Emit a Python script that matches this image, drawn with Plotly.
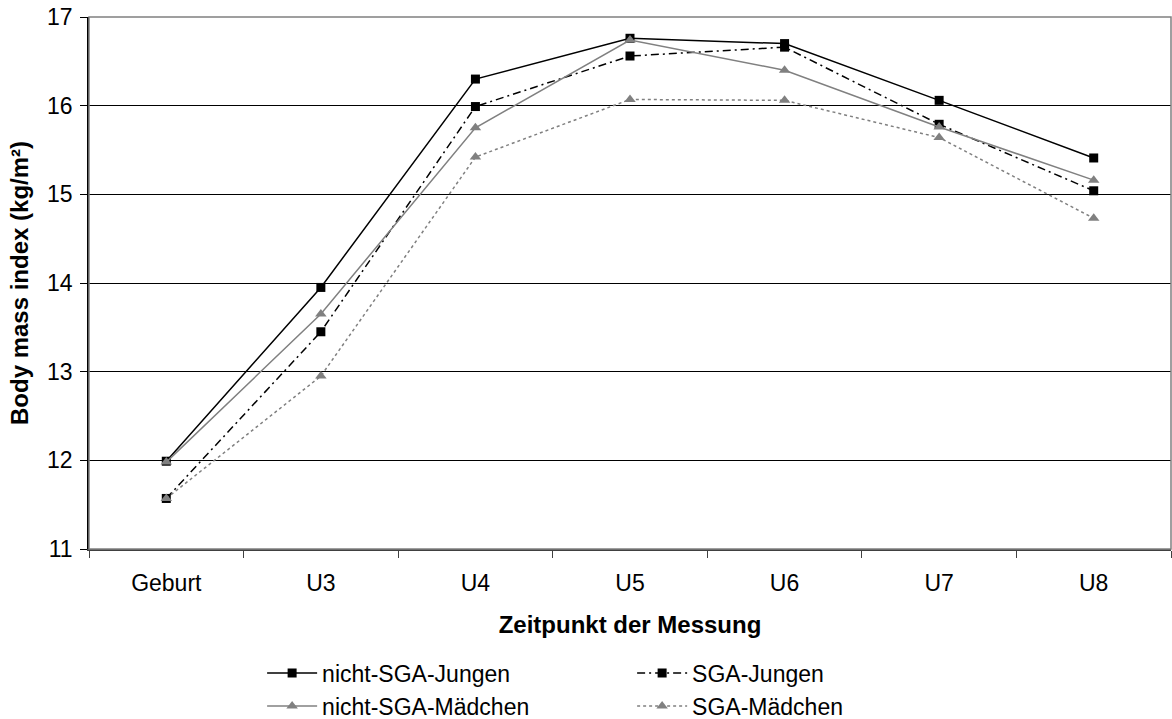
import plotly.graph_objects as go

categories = ["Geburt", "U3", "U4", "U5", "U6", "U7", "U8"]
nicht_sga_jungen = [11.99, 13.95, 16.30, 16.76, 16.70, 16.06, 15.41]
sga_jungen = [11.57, 13.45, 15.99, 16.56, 16.66, 15.79, 15.04]
nicht_sga_maedchen = [11.98, 13.65, 15.75, 16.74, 16.40, 15.76, 15.16]
sga_maedchen = [11.57, 12.95, 15.42, 16.07, 16.06, 15.64, 14.73]
y_ticks = [11, 12, 13, 14, 15, 16, 17]

FONT = "Liberation Sans, Arial, sans-serif"
FS = 23
FT = 24

fig = go.Figure()
fig.add_trace(go.Scatter(x=categories, y=nicht_sga_jungen, name="nicht-SGA-Jungen",
                         mode="lines+markers", legend="legend",
                         line=dict(color="black", width=1.5),
                         marker=dict(symbol="square", size=9, color="black")))
fig.add_trace(go.Scatter(x=categories, y=sga_jungen, name="SGA-Jungen",
                         mode="lines+markers", legend="legend",
                         line=dict(color="black", width=1.5, dash="8px,4px,2px,4px"),
                         marker=dict(symbol="square", size=9, color="black")))
fig.add_trace(go.Scatter(x=categories, y=nicht_sga_maedchen, name="nicht-SGA-Mädchen",
                         mode="lines+markers", legend="legend2",
                         line=dict(color="#808080", width=1.5),
                         marker=dict(symbol="triangle-up", size=10, color="#808080")))
fig.add_trace(go.Scatter(x=categories, y=sga_maedchen, name="SGA-Mädchen",
                         mode="lines+markers", legend="legend2",
                         line=dict(color="#808080", width=1.5, dash="3px,3px"),
                         marker=dict(symbol="triangle-up", size=10, color="#808080")))

leg_common = dict(orientation="h", x=0.160, xanchor="left", yanchor="middle",
                  entrywidth=305, entrywidthmode="pixels",
                  font=dict(family=FONT, size=FS, color="black"),
                  itemwidth=50, bgcolor="rgba(0,0,0,0)")

fig.update_layout(
    width=1172, height=719,
    margin=dict(l=89, r=1, t=17, b=170, autoexpand=False),
    paper_bgcolor="white", plot_bgcolor="white",
    font=dict(family=FONT, size=FS, color="black"),
    legend=dict(leg_common, y=-0.233),
    legend2=dict(leg_common, y=-0.295),
    xaxis=dict(type="category", range=[-0.5, 6.5], tickson="boundaries",
               ticks="outside", ticklen=7, tickcolor="#404040",
               showline=True, linecolor="#404040", linewidth=1.5,
               showgrid=False, tickfont=dict(size=FS), automargin=False,
               ticklabelstandoff=13,
               title=dict(text="<b>Zeitpunkt der Messung</b>", font=dict(size=FT), standoff=21)),
    yaxis=dict(range=[11, 17], tickvals=y_ticks, ticks="outside", ticklen=7,
               tickcolor="black", showline=True, linecolor="black", linewidth=1.5,
               showgrid=True, gridcolor="black", gridwidth=1, zeroline=False,
               tickfont=dict(size=FS), automargin=False, ticklabelstandoff=3,
               title=dict(text="<b>Body mass index (kg/m²)</b>", font=dict(size=FT), standoff=12)),
    shapes=[dict(type="rect", xref="paper", yref="paper", x0=0, x1=1, y0=0, y1=1,
                 line=dict(color="#808080", width=1.5), layer="above")],
    showlegend=True,
)

fig.write_html("out.html", config={"displayModeBar": False},
               post_script="document.body.style.margin='0';document.body.style.overflow='hidden';")
